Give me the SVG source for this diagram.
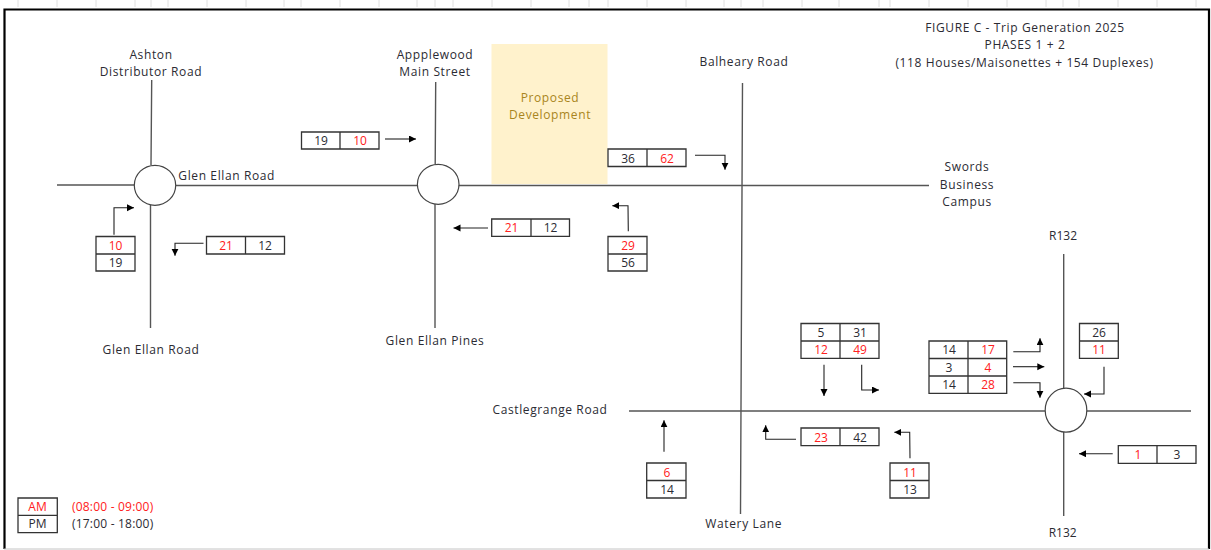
<svg xmlns="http://www.w3.org/2000/svg" width="1211" height="550" viewBox="0 0 1211 550">
<style>
text{font-family:"Open Sans","Liberation Sans",sans-serif;font-size:12px;fill:#2b2b33;text-anchor:middle}
.l{letter-spacing:.62px}
.r{fill:#ff2020}
.s{text-anchor:start;letter-spacing:.2px}
.c{fill:none;stroke:#333;stroke-width:1.3}
.road{fill:none;stroke:#555;stroke-width:1.4}
.rb{fill:#fff;stroke:#444;stroke-width:1.2}
.a{fill:none;stroke:#222;stroke-width:1.1;marker-end:url(#h)}
</style>
<defs><marker id="h" markerUnits="userSpaceOnUse" markerWidth="8" markerHeight="8" refX="7" refY="3.5" orient="auto"><path d="M0 0L7 3.5L0 7Z" fill="#000"/></marker></defs>
<rect width="1211" height="550" fill="#fff"/>
<path id="gridticks" fill="none" stroke="#e0e0e0" d="M18 0V7M57 0V7M96 0V7M135 0V7M151 0V7M168 0V7M207 0V7M246 0V7M284 0V7M301 0V7M340 0V7M379 0V7M417 0V7M435 0V7M453 0V7M492 0V7M531 0V7M569 0V7M589 0V7M608 0V7M647 0V7M686 0V7M724 0V7M741 0V7M763 0V7M802 0V7M839 0V7M879 0V7M890 0V7M929 0V7M968 0V7M1007 0V7M1046 0V7M1063 0V7M1079 0V7M1118 0V7M1157 0V7M1196 0V7"/>
<path id="frame" fill="none" stroke="#000" stroke-width="2.2" d="M4.5 549V9.5H1209V549"/>
<path id="frame-bottom" fill="none" stroke="#c4c4c4" d="M4 549H1209"/>
<g id="proposed-development"><rect x="491.5" y="44" width="116" height="140" fill="#fff2cc"/><text class="l" x="550" y="101.7" style="fill:#a98520">Proposed</text><text class="l" x="550" y="119" style="fill:#a98520">Development</text></g>
<g id="title"><text class="l" x="1025" y="32">FIGURE C - Trip Generation 2025</text><text class="l" x="1025" y="49.3">PHASES 1 + 2</text><text class="l" x="1024.5" y="66.7">(118 Houses/Maisonettes + 154 Duplexes)</text></g>
<g id="connectors">
<path class="road" d="M151.7 80L151 165M150.5 205V328M57 185H135M176 185.5H929M435.7 82L435.2 164M435 204V328M742.5 83L740.5 514M629 411H1045M1087 411H1191M1063.7 254V388M1063.7 432V516"/>
<path class="a" d="M385 139H416"/>
<path class="a" d="M114 234.7V207.7H134"/>
<path class="a" d="M203.5 243.3H175V255.7"/>
<path class="a" d="M488 228H453.5"/>
<path class="a" d="M695 155.3H725V169.7"/>
<path class="a" d="M628.3 231.3L628 205.7H612.3"/>
<path class="a" d="M664 451.7V420.3"/>
<path class="a" d="M796 439.3H765.7V425.3"/>
<path class="a" d="M824 364.7V396"/>
<path class="a" d="M861.7 364.7V390H879"/>
<path class="a" d="M1013.3 351.7H1040V338.3"/>
<path class="a" d="M1013 366.7H1044.3"/>
<path class="a" d="M1013.3 382.7H1040V397.7"/>
<path class="a" d="M1104 366.7V394H1084"/>
<path class="a" d="M910 458.3L909.7 432.3H894.3"/>
<path class="a" d="M1112.7 453.7H1079"/>
</g>
<g id="rb-ashton"><ellipse class="rb" cx="155" cy="185.3" rx="20.7" ry="20"/></g>
<g id="rb-appplewood"><ellipse class="rb" cx="438.2" cy="184.3" rx="20.8" ry="20"/></g>
<g id="rb-r132"><ellipse class="rb" cx="1066" cy="410.2" rx="20.8" ry="22"/></g>
<g id="label-ashton"><text class="l" x="151" y="58.5">Ashton</text><text class="l" x="151" y="76">Distributor Road</text></g>
<g id="label-glen-ellan-east"><text class="l" x="226.7" y="179.7">Glen Ellan Road</text></g>
<g id="label-glen-ellan-south"><text class="l" x="151" y="353.7">Glen Ellan Road</text></g>
<g id="label-appplewood"><text class="l" x="435" y="58.5">Appplewood</text><text class="l" x="435" y="76">Main Street</text></g>
<g id="label-glen-ellan-pines"><text class="l" x="435" y="344.7">Glen Ellan Pines</text></g>
<g id="label-balheary"><text class="l" x="744" y="65.7">Balheary Road</text></g>
<g id="label-swords"><text class="l" x="967" y="171.3">Swords</text><text class="l" x="967" y="188.7">Business</text><text class="l" x="967" y="206">Campus</text></g>
<g id="label-r132-north"><text x="1063" y="240">R132</text></g>
<g id="label-r132-south"><text x="1062.7" y="537.3">R132</text></g>
<g id="label-castlegrange"><text class="l" x="550" y="414.3">Castlegrange Road</text></g>
<g id="label-watery"><text class="l" x="743.7" y="528">Watery Lane</text></g>
<g id="t1"><path class="c" d="M301.5 132H379V149H301.5ZM340 132V149"/><text x="321" y="145">19</text><text class="r" x="360" y="145">10</text></g>
<g id="t2"><path class="c" d="M96 236.5H135V271H96ZM96 254H135"/><text class="r" x="115.5" y="249.5">10</text><text x="115.5" y="267">19</text></g>
<g id="t3"><path class="c" d="M206.5 236.5H284.5V254H206.5ZM245.5 236.5V254"/><text class="r" x="226" y="250">21</text><text x="265" y="250">12</text></g>
<g id="t4"><path class="c" d="M491.7 219H569.5V236.3H491.7ZM531 219V236.3"/><text class="r" x="511.5" y="232.3">21</text><text x="550.5" y="232.3">12</text></g>
<g id="t5"><path class="c" d="M608 149H686V166.5H608ZM647 149V166.5"/><text x="628" y="162.5">36</text><text class="r" x="667" y="162.5">62</text></g>
<g id="t6"><path class="c" d="M608 236.5H647V271H608ZM608 254H647"/><text class="r" x="628" y="249.5">29</text><text x="628" y="267">56</text></g>
<g id="t7"><path class="c" d="M801 323.5H879V358.3H801ZM840 323.5V358.3M801 341H879"/><text x="821" y="336.5">5</text><text x="860" y="336.5">31</text><text class="r" x="821" y="354">12</text><text class="r" x="860" y="354">49</text></g>
<g id="t8"><path class="c" d="M801 428H879V445.7H801ZM840 428V445.7"/><text class="r" x="821" y="441.5">23</text><text x="860" y="441.5">42</text></g>
<g id="t9"><path class="c" d="M646.7 463H686V498H646.7ZM646.7 480.5H686"/><text class="r" x="667" y="476.5">6</text><text x="667" y="494">14</text></g>
<g id="t10"><path class="c" d="M890 463H929V498H890ZM890 480.5H929"/><text class="r" x="910" y="476.5">11</text><text x="910" y="494">13</text></g>
<g id="t11"><path class="c" d="M929 341H1006.7V393.3H929ZM968 341V393.3M929 358.5H1006.7M929 376H1006.7"/><text x="949" y="354">14</text><text class="r" x="988" y="354">17</text><text x="949" y="371.5">3</text><text class="r" x="988" y="371.5">4</text><text x="949" y="389">14</text><text class="r" x="988" y="389">28</text></g>
<g id="t12"><path class="c" d="M1079.5 323.5H1118.3V358.3H1079.5ZM1079.5 341H1118.3"/><text x="1099" y="336.5">26</text><text class="r" x="1099" y="354">11</text></g>
<g id="t13"><path class="c" d="M1118.3 445.7H1196V463.3H1118.3ZM1157 445.7V463.3"/><text class="r" x="1138" y="459">1</text><text x="1177" y="459">3</text></g>
<g id="legend"><path class="c" d="M18 498H57.3V532.7H18ZM18 515.3H57.3"/><text class="r" x="37.5" y="510.7">AM</text><text x="37.5" y="528">PM</text><text class="r s" x="72" y="510.7">(08:00 - 09:00)</text><text class="s" x="72" y="528">(17:00 - 18:00)</text></g>
</svg>
